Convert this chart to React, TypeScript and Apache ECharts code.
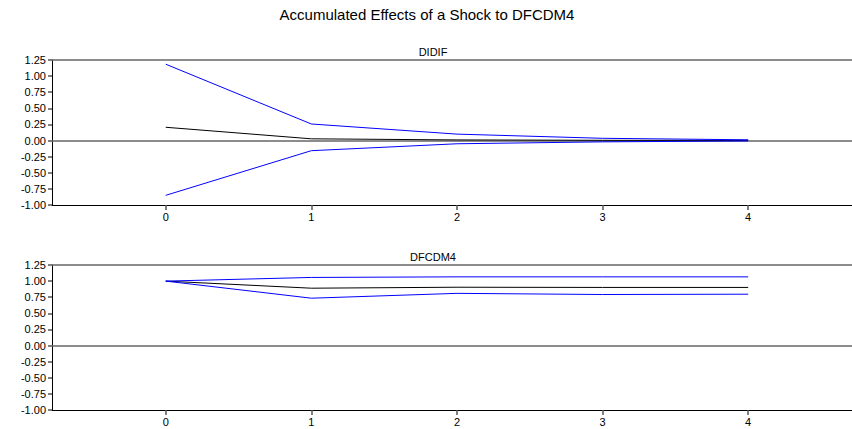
import React, { useEffect, useRef } from "react";
import * as echarts from "echarts";

const horizons = [0, 1, 2, 3, 4];
const tickLabels = ["0", "1", "2", "3", "4"];

const didifMid = [0.206, 0.027, 0.01, 0.004, 0.002];
const didifUpper = [1.185, 0.257, 0.1, 0.035, 0.012];
const didifLower = [-0.85, -0.157, -0.05, -0.02, -0.006];

const dfcdmMid = [1.0, 0.89, 0.905, 0.902, 0.902];
const dfcdmUpper = [1.0, 1.057, 1.066, 1.066, 1.066];
const dfcdmLower = [1.0, 0.735, 0.81, 0.792, 0.797];

const panelTitles = ["DIDIF", "DFCDM4"];
const mainTitle = "Accumulated Effects of a Shock to DFCDM4";

const pairs = (ys: number[]) => horizons.map((h, i) => [h, ys[i]]);

export default function App() {
  const ref = useRef<HTMLDivElement>(null);
  useEffect(() => {
    if (!ref.current) return;
    const chart = echarts.init(ref.current, null, { renderer: "svg" });
    const font = "Liberation Sans, Arial, sans-serif";
    const grids = [
      { left: 52, right: 0, top: 60, height: 145 },
      { left: 52, right: 0, top: 265, height: 145 },
    ];
    const xAxes = grids.map((_, i) => ({
      type: "value",
      gridIndex: i,
      min: -0.781,
      max: 4.713,
      axisLine: { show: true, onZero: false, lineStyle: { color: "#000", width: 1 } },
      axisTick: {
        show: true,
        length: 5,
        customValues: horizons,
        lineStyle: { color: "#555", width: 1.5 },
      },
      axisLabel: {
        show: true,
        customValues: horizons,
        formatter: (v: number) => tickLabels[horizons.indexOf(Math.round(v))] ?? "",
        color: "#000",
        fontSize: 11,
        fontFamily: font,
        margin: 6,
      },
      splitLine: { show: false },
    }));
    const yAxes = grids.map((_, i) => ({
      type: "value",
      gridIndex: i,
      min: -1,
      max: 1.25,
      interval: 0.25,
      axisLine: { show: true, onZero: false, lineStyle: { color: "#000", width: 1 } },
      axisTick: { show: true, length: 4, lineStyle: { color: "#555", width: 1.5 } },
      axisLabel: {
        color: "#000",
        fontSize: 11,
        fontFamily: font,
        margin: 6,
        formatter: (v: number) => v.toFixed(2),
      },
      splitLine: { show: false },
    }));
    const mk = (g: number, ys: number[], color: string, refLines = false) => ({
      type: "line",
      xAxisIndex: g,
      yAxisIndex: g,
      data: pairs(ys),
      symbol: "none",
      lineStyle: { color, width: 1 },
      z: color === "#000" ? 3 : 4,
      ...(refLines
        ? {
            markLine: {
              silent: true,
              symbol: "none",
              label: { show: false },
              lineStyle: { color: "#666", width: 1.5, type: "solid" },
              data: [{ yAxis: 0 }, { yAxis: 1.25 }],
              z: 1,
            },
          }
        : {}),
    });
    chart.setOption({
      animation: false,
      backgroundColor: "#fff",
      grid: grids,
      xAxis: xAxes,
      yAxis: yAxes,
      graphic: [
        {
          type: "text",
          x: 427,
          y: 14,
          style: {
            text: mainTitle,
            fontSize: 15,
            fontFamily: font,
            fill: "#000",
            align: "center",
            verticalAlign: "middle",
          },
        },
        {
          type: "text",
          x: 433,
          y: 52,
          style: {
            text: panelTitles[0],
            fontSize: 11,
            fontFamily: font,
            fill: "#000",
            align: "center",
            verticalAlign: "middle",
          },
        },
        {
          type: "text",
          x: 433,
          y: 257,
          style: {
            text: panelTitles[1],
            fontSize: 11,
            fontFamily: font,
            fill: "#000",
            align: "center",
            verticalAlign: "middle",
          },
        },
      ],
      series: [
        mk(0, didifMid, "#000", true),
        mk(0, didifUpper, "#0000ff"),
        mk(0, didifLower, "#0000ff"),
        mk(1, dfcdmMid, "#000", true),
        mk(1, dfcdmUpper, "#0000ff"),
        mk(1, dfcdmLower, "#0000ff"),
      ],
    });
    return () => chart.dispose();
  }, []);
  return (
    <div
      ref={ref}
      style={{ position: "fixed", left: 0, top: 0, width: 852, height: 429, background: "#fff" }}
    />
  );
}
